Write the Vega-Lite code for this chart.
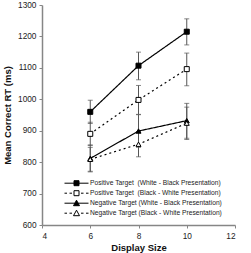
{
  "$schema": "https://vega.github.io/schema/vega-lite/v6.json",
  "width": 193,
  "height": 220,
  "autosize": {"type": "none"},
  "padding": {"left": 42, "top": 5, "right": 16, "bottom": 28},
  "config": {
    "view": {"stroke": null},
    "font": "Liberation Sans",
    "axis": {
      "domainColor": "#868686",
      "domainWidth": 1.5,
      "tickColor": "#868686",
      "tickWidth": 1,
      "tickSize": 3,
      "grid": false,
      "labelFont": "Liberation Sans",
      "labelFontSize": 8.3,
      "labelColor": "#222",
      "titleFont": "Liberation Sans",
      "titleFontSize": 9.5,
      "titleFontWeight": "bold",
      "titleColor": "#111"
    },
    "axisY": {"values": [600, 700, 800, 900, 1000, 1100, 1200, 1300], "format": "d", "title": "Mean Correct RT (ms)", "labelPadding": 3, "titlePadding": 5}
  },
  "data": {
    "values": [
      {"series": "Positive Target\u00a0 (White - Black Presentation)", "size": 6, "rt": 960, "lo": 923, "hi": 997},
      {"series": "Positive Target\u00a0 (White - Black Presentation)", "size": 8, "rt": 1107, "lo": 1062, "hi": 1150},
      {"series": "Positive Target\u00a0 (White - Black Presentation)", "size": 10, "rt": 1215, "lo": 1173, "hi": 1256},
      {"series": "Positive Target\u00a0 (Black - White Presentation)", "size": 6, "rt": 890, "lo": 853, "hi": 927},
      {"series": "Positive Target\u00a0 (Black - White Presentation)", "size": 8, "rt": 998, "lo": 952, "hi": 1044},
      {"series": "Positive Target\u00a0 (Black - White Presentation)", "size": 10, "rt": 1096, "lo": 1043, "hi": 1147},
      {"series": "Negative Target (White - Black Presentation)", "size": 6, "rt": 812, "lo": 769, "hi": 855},
      {"series": "Negative Target (White - Black Presentation)", "size": 8, "rt": 899, "lo": 847, "hi": 951},
      {"series": "Negative Target (White - Black Presentation)", "size": 10, "rt": 932, "lo": 876, "hi": 987},
      {"series": "Negative Target (Black - White Presentation)", "size": 6, "rt": 809, "lo": 771, "hi": 847},
      {"series": "Negative Target (Black - White Presentation)", "size": 8, "rt": 857, "lo": 817, "hi": 897},
      {"series": "Negative Target (Black - White Presentation)", "size": 10, "rt": 924, "lo": 872, "hi": 975}
    ]
  },
  "encoding": {
    "x": {
      "field": "size",
      "type": "quantitative",
      "scale": {"domain": [4, 12], "nice": false, "zero": false},
      "axis": {"values": [4, 6, 8, 10, 12], "title": "Display Size", "labelPadding": 3, "titlePadding": 3}
    }
  },
  "layer": [
    {
      "mark": {"type": "errorbar", "ticks": {"size": 5, "thickness": 1}, "rule": {"strokeWidth": 1}, "color": "#555"},
      "encoding": {
        "y": {
          "field": "lo",
          "type": "quantitative",
          "scale": {"domain": [600, 1300], "nice": false, "zero": false},
          "title": "Mean Correct RT (ms)"
        },
        "y2": {"field": "hi"},
        "detail": {"field": "series"}
      }
    },
    {
      "mark": {"type": "line", "color": "black", "strokeWidth": 1.2},
      "encoding": {
        "y": {"field": "rt", "type": "quantitative", "title": "Mean Correct RT (ms)"},
        "detail": {"field": "series"},
        "strokeDash": {
          "field": "series",
          "type": "nominal",
          "scale": {
            "domain": ["Positive Target\u00a0 (White - Black Presentation)", "Positive Target\u00a0 (Black - White Presentation)", "Negative Target (White - Black Presentation)", "Negative Target (Black - White Presentation)"],
            "range": [[1, 0], [2, 3], [1, 0], [2, 3]]
          },
          "legend": null
        }
      }
    },
    {
      "mark": {"type": "point", "filled": true, "stroke": "black", "strokeWidth": 1, "opacity": 1},
      "encoding": {
        "y": {"field": "rt", "type": "quantitative", "title": "Mean Correct RT (ms)"},
        "shape": {
          "field": "series",
          "type": "nominal",
          "scale": {
            "domain": ["Positive Target\u00a0 (White - Black Presentation)", "Positive Target\u00a0 (Black - White Presentation)", "Negative Target (White - Black Presentation)", "Negative Target (Black - White Presentation)"],
            "range": ["square", "square", "triangle-up", "triangle-up"]
          },
          "legend": null
        },
        "fill": {
          "field": "series",
          "type": "nominal",
          "scale": {
            "domain": ["Positive Target\u00a0 (White - Black Presentation)", "Positive Target\u00a0 (Black - White Presentation)", "Negative Target (White - Black Presentation)", "Negative Target (Black - White Presentation)"],
            "range": ["black", "white", "black", "white"]
          },
          "legend": null
        },
        "size": {"value": 25}
      }
    },
    {
      "mark": {"type": "point", "filled": true, "stroke": "black", "strokeWidth": 1, "opacity": 0},
      "encoding": {
        "y": {"field": "rt", "type": "quantitative", "title": "Mean Correct RT (ms)"},
        "shape": {
          "field": "series",
          "type": "nominal",
          "scale": {
            "domain": ["Positive Target\u00a0 (White - Black Presentation)", "Positive Target\u00a0 (Black - White Presentation)", "Negative Target (White - Black Presentation)", "Negative Target (Black - White Presentation)"],
            "range": [
              "M-2.4,0H2.4M-0.5,-0.5H0.5V0.5H-0.5Z",
              "M-2.4,0H-1.9M-1.4,0H-0.9M0.9,0H1.4M1.9,0H2.4M-0.5,-0.5H0.5V0.5H-0.5Z",
              "M-2.4,0H2.4M0,-0.6L0.6,0.5H-0.6Z",
              "M-2.4,0H-1.9M-1.4,0H-0.9M0.9,0H1.4M1.9,0H2.4M0,-0.6L0.6,0.5H-0.6Z"
            ]
          },
          "legend": {
            "orient": "none",
            "legendX": 29,
            "legendY": 172.7,
            "title": null,
            "symbolSize": 100,
            "symbolOpacity": 1,
            "symbolStrokeColor": "black",
            "symbolStrokeWidth": 1,
            "labelFont": "Liberation Sans",
            "labelFontSize": 6.7,
            "labelColor": "#222",
            "labelOffset": 8,
            "rowPadding": 0,
            "padding": 0,
            "encode": {"symbols": {"update": {"stroke": {"value": "black"}, "strokeWidth": {"value": 1}, "opacity": {"value": 1}, "strokeOpacity": {"value": 1}}}}
          }
        },
        "fill": {
          "field": "series",
          "type": "nominal",
          "scale": {
            "domain": ["Positive Target\u00a0 (White - Black Presentation)", "Positive Target\u00a0 (Black - White Presentation)", "Negative Target (White - Black Presentation)", "Negative Target (Black - White Presentation)"],
            "range": ["black", "white", "black", "white"]
          },
          "legend": {
            "orient": "none",
            "legendX": 29,
            "legendY": 172.7,
            "title": null,
            "symbolSize": 100,
            "symbolOpacity": 1,
            "symbolStrokeColor": "black",
            "symbolStrokeWidth": 1,
            "labelFont": "Liberation Sans",
            "labelFontSize": 6.7,
            "labelColor": "#222",
            "labelOffset": 8,
            "rowPadding": 0,
            "padding": 0,
            "encode": {"symbols": {"update": {"stroke": {"value": "black"}, "strokeWidth": {"value": 1}, "opacity": {"value": 1}, "strokeOpacity": {"value": 1}}}}
          }
        }
      }
    }
  ],
  "resolve": {"scale": {"shape": "independent", "fill": "independent"}}
}
